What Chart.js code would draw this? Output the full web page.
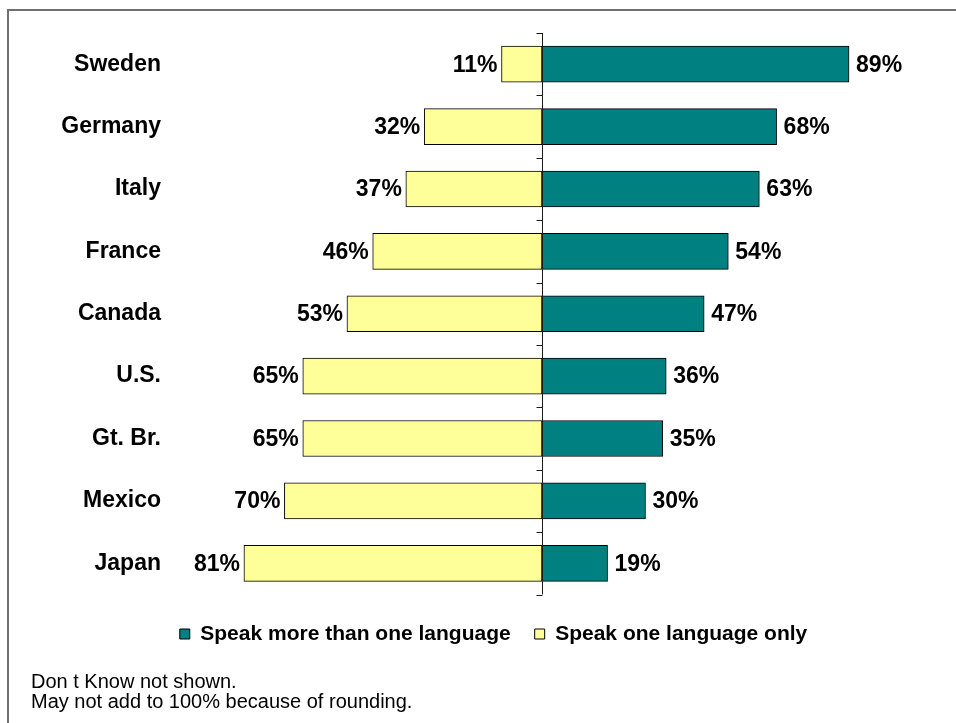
<!DOCTYPE html>
<html>
<head>
<meta charset="utf-8">
<script src="https://cdn.jsdelivr.net/npm/chart.js@4.4.1/dist/chart.umd.min.js"></script>
<style>
  html, body { margin: 0; padding: 0; background: #fff; }
  #wrap { position: relative; width: 956px; height: 723px; overflow: hidden; }
  #frame { position: absolute; left: 7px; top: 9px; width: 960px; height: 730px;
           border-left: 2px solid #707070; border-top: 2px solid #707070; }
  canvas { position: absolute; left: 0; top: 0; }
  .note { position: absolute; left: 31px; font: 20px/20px "Liberation Sans", Arial, sans-serif; color: #000; white-space: nowrap; }
</style>
</head>
<body>
<div id="wrap">
  <div id="frame"></div>
  <canvas id="chart" width="956" height="723"></canvas>
  <div class="note" style="top:671px">Don t Know not shown.</div>
  <div class="note" style="top:691px">May not add to 100% because of rounding.</div>
</div>
<script>
// Countries, top to bottom
const countries = ['Sweden', 'Germany', 'Italy', 'France', 'Canada', 'U.S.', 'Gt. Br.', 'Mexico', 'Japan'];
// Percent who speak more than one language
const moreThanOne = [89, 68, 63, 54, 47, 36, 35, 30, 19];
// Percent who speak one language only
const oneOnly = [11, 32, 37, 46, 53, 65, 65, 70, 81];
const seriesNames = ['Speak more than one language', 'Speak one language only'];

const FONT = '"Liberation Sans", Arial, sans-serif';

// Percent labels at the outer end of every bar
const valueLabels = {
  id: 'valueLabels',
  afterDatasetsDraw(chart) {
    const ctx = chart.ctx;
    ctx.save();
    ctx.font = 'bold 23px ' + FONT;
    ctx.fillStyle = '#000';
    ctx.textBaseline = 'middle';
    chart.data.datasets.forEach((ds, di) => {
      const meta = chart.getDatasetMeta(di);
      meta.data.forEach((bar, i) => {
        const txt = ds.data[i] + '%';
        if (di === 0) {
          ctx.textAlign = 'left';
          ctx.fillText(txt, bar.x + 7, bar.y + 1);
        } else {
          ctx.textAlign = 'right';
          ctx.fillText(txt, bar.x - 4, bar.y + 1);
        }
      });
    });
    ctx.restore();
  }
};

// Vertical zero line with tick marks between the country rows
const centerAxis = {
  id: 'centerAxis',
  afterDatasetsDraw(chart) {
    const { ctx, chartArea, scales } = chart;
    const x0 = Math.round(scales.xR.getPixelForValue(0)) + 0.5;
    ctx.save();
    ctx.strokeStyle = '#1a1a1a';
    ctx.lineWidth = 1;
    ctx.beginPath();
    ctx.moveTo(x0, chartArea.top);
    ctx.lineTo(x0, chartArea.bottom);
    for (let i = 0; i <= countries.length; i++) {
      const y = Math.round(scales.y.getPixelForValue(i - 0.5)) + 0.5;
      ctx.moveTo(x0 - 6, y);
      ctx.lineTo(x0, y);
    }
    ctx.stroke();
    ctx.restore();
  }
};

new Chart(document.getElementById('chart'), {
  type: 'bar',
  data: {
    labels: countries,
    datasets: [
      {
        label: seriesNames[0],
        data: moreThanOne,
        xAxisID: 'xR',
        backgroundColor: '#008080',
        borderColor: '#000',
        borderWidth: 1,
        borderSkipped: false,
        barThickness: 36,
        grouped: false
      },
      {
        label: seriesNames[1],
        data: oneOnly,
        xAxisID: 'xL',
        backgroundColor: '#FFFF99',
        borderColor: '#000',
        borderWidth: 1,
        borderSkipped: false,
        barThickness: 36,
        grouped: false
      }
    ]
  },
  options: {
    indexAxis: 'y',
    responsive: false,
    animation: false,
    layout: { padding: { top: 33, left: 31, right: 0, bottom: 68.5 } },
    scales: {
      y: {
        type: 'category',
        position: 'left',
        grid: { display: false, drawTicks: false },
        border: { display: false },
        ticks: { color: '#000', font: { family: FONT, size: 23, weight: 'bold' }, padding: 13 },
        afterFit(scale) { scale.width = 143; }
      },
      xR: {
        type: 'linear',
        position: 'bottom',
        min: -106.67,
        max: 120,
        grid: { display: false, drawTicks: false },
        border: { display: false },
        ticks: { display: false },
        afterFit(scale) { scale.height = 5; }
      },
      xL: {
        type: 'linear',
        display: false,
        reverse: true,
        min: -112.5,
        max: 100
      }
    },
    plugins: {
      tooltip: { enabled: false },
      legend: {
        position: 'bottom',
        labels: {
          color: '#000',
          boxWidth: 10,
          boxHeight: 10,
          padding: 24,
          font: { family: FONT, size: 21, weight: 'bold' }
        }
      }
    }
  },
  plugins: [valueLabels, centerAxis]
});
</script>
</body>
</html>
